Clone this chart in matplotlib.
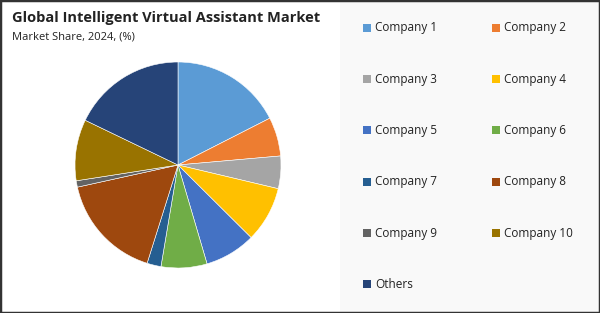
import matplotlib.pyplot as plt
from matplotlib.patches import Rectangle

labels = ["Company 1", "Company 2", "Company 3", "Company 4", "Company 5",
          "Company 6", "Company 7", "Company 8", "Company 9", "Company 10", "Others"]
shares = [17.5, 6.1, 5.1, 8.75, 8.0, 7.2, 2.2, 16.7, 1.0, 9.6, 17.85]
colors = ["#5B9BD5", "#ED7D31", "#A5A5A5", "#FFC000", "#4472C4", "#70AD47",
          "#255E91", "#9E480E", "#636363", "#997300", "#264478"]

plt.rcParams["font.family"] = ["Open Sans", "DejaVu Sans"]

fig = plt.figure(figsize=(6, 3.13), dpi=100)
fig.patch.set_facecolor("white")

# right panel background
fig.patches.append(Rectangle((340 / 600, 0), 260 / 600, 1, transform=fig.transFigure,
                             facecolor="#F9F9F9", edgecolor="none", zorder=0))
# outer border
fig.patches.append(Rectangle((0, 0), 1, 1, transform=fig.transFigure,
                             facecolor="none", edgecolor="#333333", linewidth=2.5, zorder=5))

fig.text(12 / 600, 1 - 18 / 313, "Global Intelligent Virtual Assistant Market",
         fontsize=10.5, fontweight="bold", color="#222222", va="center", ha="left")
fig.text(12 / 600, 1 - 37 / 313, "Market Share, 2024, (%)",
         fontsize=8, color="#222222", va="center", ha="left")

# pie: center (178,165), radius ~103 px
ax = fig.add_axes([(178 - 103) / 600, (313 - 165 - 103) / 313, 206 / 600, 206 / 313])
ax.pie(shares, colors=colors, startangle=90, counterclock=False,
       wedgeprops=dict(edgecolor="white", linewidth=0.4))
ax.set_aspect("equal")
ax.set_xlim(-1, 1)
ax.set_ylim(-1, 1)
ax.axis("off")

# legend, two columns
col_x = [363, 492]
row_y = [28, 79, 130, 182, 233, 284]
for i, (lab, c) in enumerate(zip(labels, colors)):
    x = col_x[i % 2]
    y = row_y[i // 2]
    fig.patches.append(Rectangle((x / 600, 1 - (y + 4) / 313), 8 / 600, 8 / 313,
                                 transform=fig.transFigure, facecolor=c,
                                 edgecolor="none", zorder=2))
    fig.text((x + 12) / 600, 1 - y / 313, lab, fontsize=8.5, color="#222222",
             va="center", ha="left")

fig.savefig("out.png", dpi=100)
